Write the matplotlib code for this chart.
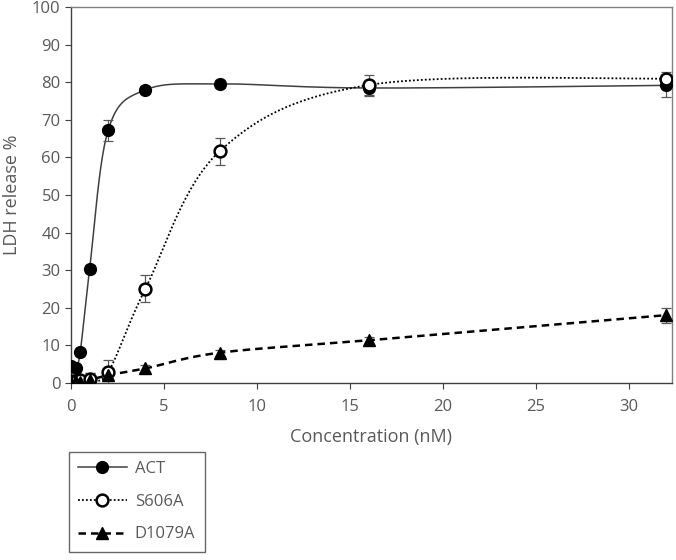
import numpy as np
import matplotlib
matplotlib.use("Agg")
from matplotlib import pyplot as plt

plt.rcParams['font.family'] = ['Open Sans', 'DejaVu Sans']

conc = [0, 0.25, 0.5, 1, 2, 4, 8, 16, 32]
act = [4.5, 4.0, 8.3, 30.3, 67.3, 78.0, 79.6, 78.5, 79.2]
act_err = [0.5, 0.5, 0.5, 1.0, 2.8, 1.0, 1.0, 2.0, 3.0]
s606a = [0.5, 0.5, 0.8, 1.0, 2.8, 25.0, 61.7, 79.3, 81.0]
s606a_err = [0.5, 0.5, 0.5, 1.5, 3.2, 3.6, 3.6, 2.7, 1.8]
d1079a = [0.0, 0.2, 0.3, 0.7, 2.0, 3.8, 8.0, 11.3, 18.0]
d1079a_err = [0.3, 0.3, 0.3, 1.8, 1.0, 1.0, 0.8, 1.0, 2.0]

TXT = '#595959'


def smooth(x, y, sx=18.6, sy=3.75, n=40):
    # excel-like smoothed line (catmull-rom bezier), done in pixel-ish space
    p = np.column_stack([np.asarray(x, float) * sx, np.asarray(y, float) * sy])
    pts = np.vstack([p[0], p, p[-1]])
    out = []
    t = np.linspace(0, 1, n)[:, None]
    for i in range(1, len(pts) - 2):
        p0, p1, p2, p3 = pts[i - 1], pts[i], pts[i + 1], pts[i + 2]
        c1 = p1 + (p2 - p0) / 6
        c2 = p2 - (p3 - p1) / 6
        b = ((1 - t) ** 3) * p1 + 3 * ((1 - t) ** 2) * t * c1 + 3 * (1 - t) * t ** 2 * c2 + t ** 3 * p2
        out.append(b)
    out = np.vstack(out)
    return out[:, 0] / sx, out[:, 1] / sy


fig = plt.figure(figsize=(6.76, 5.6), dpi=100)
ax = fig.add_axes([0.105, 0.3166, 0.889, 0.6704])

series = [
    (act, act_err, 'ACT', dict(ls='-', lw=1.1, color='#404040'), dict(marker='o', mfc='black', mec='black')),
    (s606a, s606a_err, 'S606A', dict(ls=(0, (1, 1.2)), lw=1.3, color='black'), dict(marker='o', mfc='white', mec='black', mew=1.8)),
    (d1079a, d1079a_err, 'D1079A', dict(ls=(0, (3, 2)), lw=1.8, color='black'), dict(marker='^', mfc='black', mec='black')),
]

handles = []
for y, e, name, lstyle, mstyle in series:
    xs, ys = smooth(conc, y)
    ax.plot(xs, ys, zorder=2, **lstyle)
    ax.errorbar(conc, y, yerr=e, fmt='none', ecolor=TXT, elinewidth=0.9, capsize=3.5, capthick=0.9, zorder=3)
    ax.plot(conc, y, ls='none', ms=8.5, zorder=4, **mstyle)
    h, = plt.plot([], [], ms=8.5, **lstyle, **mstyle)
    handles.append(h)

ax.set_xlim(0, 32.3)
ax.set_ylim(0, 100)
ax.set_xticks(range(0, 31, 5))
ax.set_yticks(range(0, 101, 10))
for s in ax.spines.values():
    s.set_color('#808080')
    s.set_linewidth(1.0)
ax.spines['bottom'].set_color('#404040')
ax.spines['left'].set_color('#404040')
ax.tick_params(direction='out', length=4, color='#404040', labelcolor=TXT, labelsize=12)
ax.tick_params(axis='x', pad=8)
ax.set_xlabel('Concentration (nM)', color=TXT, fontsize=13, labelpad=9)
ax.set_ylabel('LDH release %', color=TXT, fontsize=13, labelpad=8)

leg = fig.legend(handles, ['ACT', 'S606A', 'D1079A'], loc='upper left',
                 bbox_to_anchor=(69 / 676, 1 - 452 / 560), fancybox=False,
                 edgecolor='#404040', fontsize=12, handlelength=2.9,
                 labelspacing=1.0, borderpad=0.55, handletextpad=0.5,
                 borderaxespad=0)
for t in leg.get_texts():
    t.set_color(TXT)
leg.get_frame().set_linewidth(1.0)

fig.savefig('out.png', dpi=100)
